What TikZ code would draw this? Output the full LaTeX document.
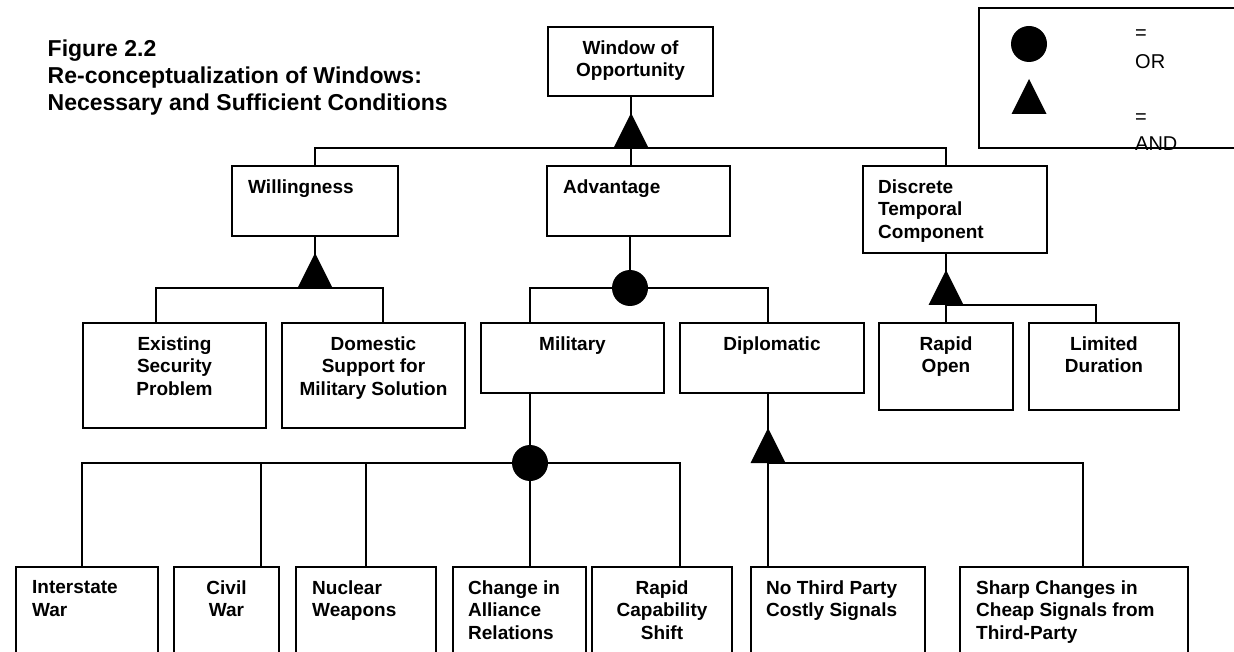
\documentclass[tikz,border=0pt]{standalone}
\usepackage{fontspec}
\setmainfont{Liberation Sans}
\usetikzlibrary{positioning}
\tikzset{
  box/.style={draw, line width=1.7pt, inner sep=0pt, outer sep=0pt, anchor=north west},
  conn/.style={line width=1.7pt},
  bt/.style={font=\fontsize{19}{22.7}\selectfont\bfseries, inner sep=0pt},
  btc/.style={bt, align=center},
  btl/.style={bt, align=left},
  ttl/.style={font=\fontsize{23}{27.3}\selectfont\bfseries, inner sep=0pt, align=left, anchor=north west},
  legtxt/.style={font=\fontsize{20}{24}\selectfont, inner sep=0pt, anchor=base west},
  orgate/.style={circle, fill=black, inner sep=0pt, minimum width=35pt, minimum height=36pt},
  andgate/.pic={\fill (-17.5,0) -- (0,-35) -- (17.5,0) -- cycle;},
}
\begin{document}
\begin{tikzpicture}[x=1pt,y=-1pt]
\useasboundingbox (0,0) rectangle (1234,652);
\fill[white] (0,0) rectangle (1234,652);
\clip (0,0) rectangle (1234,652);

% title
\node[ttl] (title) at (47.5,39.5) {Figure 2.2\\Re-conceptualization of Windows:\\Necessary and Sufficient Conditions};

% boxes
\node[box, minimum width=165pt, minimum height=69pt] (win) at (548,27) {};
\node[box, minimum width=166pt, minimum height=70pt] (will) at (232,166) {};
\node[box, minimum width=183pt, minimum height=70pt] (adv) at (547,166) {};
\node[box, minimum width=184pt, minimum height=87pt] (disc) at (863,166) {};
\node[box, minimum width=183pt, minimum height=105pt] (exist) at (83,323) {};
\node[box, minimum width=183pt, minimum height=105pt] (dom) at (282,323) {};
\node[box, minimum width=183pt, minimum height=70pt] (mil) at (481,323) {};
\node[box, minimum width=184pt, minimum height=70pt] (dip) at (680,323) {};
\node[box, minimum width=134pt, minimum height=87pt] (ropen) at (879,323) {};
\node[box, minimum width=150pt, minimum height=87pt] (lim) at (1029,323) {};
\node[box, minimum width=142pt, minimum height=140pt] (inter) at (16,567) {};
\node[box, minimum width=105pt, minimum height=140pt] (civil) at (174,567) {};
\node[box, minimum width=140pt, minimum height=140pt] (nuc) at (296,567) {};
\node[box, minimum width=133pt, minimum height=140pt] (chg) at (453,567) {};
\node[box, minimum width=140pt, minimum height=140pt] (rcap) at (592,567) {};
\node[box, minimum width=174pt, minimum height=140pt] (nthird) at (751,567) {};
\node[box, minimum width=228pt, minimum height=140pt] (sharp) at (960,567) {};
\node[box, minimum width=330pt, minimum height=140pt] (leg) at (979,8) {};

% box texts
\node[btc, below=13.2pt of win.north] (winT) {Window of\\Opportunity};
\node[btl, below right=13.2pt and 16pt of will.north west] (willT) {Willingness};
\node[btl, below right=13.2pt and 16pt of adv.north west] (advT) {Advantage};
\node[btl, below right=13.2pt and 15pt of disc.north west] (discT) {Discrete\\Temporal\\Component};
\node[btc, below=13.2pt of exist.north] (existT) {Existing\\Security\\Problem};
\node[btc, below=13.2pt of dom.north] (domT) {Domestic\\Support for\\Military Solution};
\node[btc, below=13.2pt of mil.north] (milT) {Military};
\node[btc, below=13.2pt of dip.north] (dipT) {Diplomatic};
\node[btc, below=13.2pt of ropen.north] (ropenT) {Rapid\\Open};
\node[btc, below=13.2pt of lim.north] (limT) {Limited\\Duration};
\node[btl, below right=13.2pt and 16pt of inter.north west] (interT) {Interstate\\War};
\node[btc, below=13.2pt of civil.north] (civilT) {Civil\\War};
\node[btl, below right=13.2pt and 16pt of nuc.north west] (nucT) {Nuclear\\Weapons};
\node[btl, below right=13.2pt and 15pt of chg.north west] (chgT) {Change in\\Alliance\\Relations};
\node[btc, below=13.2pt of rcap.north] (rcapT) {Rapid\\Capability\\Shift};
\node[btl, below right=13.2pt and 15pt of nthird.north west] (nthirdT) {No Third Party\\Costly Signals};
\node[btl, below right=13.2pt and 16pt of sharp.north west] (sharpT) {Sharp Changes in\\Cheap Signals from\\Third-Party};

% legend texts
\node[legtxt] (eq1) at (1135,40) {=};
\node[legtxt] (orL) at (1135,69) {OR};
\node[legtxt] (eq2) at (1135,124) {=};
\node[legtxt] (andL) at (1135,151) {AND};

% gate positions
\coordinate (g1) at (631,148);
\coordinate (g2) at (315,288);
\coordinate (g3) at (768,463);
\coordinate (g4) at (946,305);
\coordinate (o1) at (630,288);
\coordinate (o2) at (530,463);

% attachment points on the boxes
\coordinate (discA) at ([xshift=-9pt]disc.north);
\coordinate (existA) at ([xshift=-18.5pt]exist.north);
\coordinate (domA) at ([xshift=9.5pt]dom.north);
\coordinate (milA) at ([xshift=-42.5pt]mil.north);
\coordinate (dipA) at ([xshift=-4pt]dip.north);
\coordinate (interA) at ([xshift=-5pt]inter.north);
\coordinate (civilA) at ([xshift=34.5pt]civil.north);
\coordinate (nucA) at (nuc.north);
\coordinate (chgA) at ([xshift=10.5pt]chg.north);
\coordinate (rcapA) at ([xshift=18pt]rcap.north);
\coordinate (sharpA) at ([xshift=9pt]sharp.north);
\coordinate (limA) at ([xshift=-8pt]lim.north);

% connectors
\draw[conn] (g1 |- win.south) -- (g1);
\draw[conn] (will.north) |- (g1) -| (discA);
\draw[conn] (g1) -- (g1 |- adv.north);

\draw[conn] (g2 |- will.south) -- (g2);
\draw[conn] (existA) |- (g2) -| (domA);

\draw[conn] (o1 |- adv.south) -- (o1);
\draw[conn] (milA) |- (o1) -| (dipA);

\draw[conn] (o2 |- mil.south) -- (o2);
\draw[conn] (interA) |- (o2) -| (rcapA);
\draw[conn] (civilA) -- (civilA |- o2);
\draw[conn] (nucA) -- (nucA |- o2);
\draw[conn] (o2) -- (o2 |- chgA);

\draw[conn] (g3 |- dip.south) -- (g3) -- (g3 |- nthird.north);
\draw[conn] (g3) -| (sharpA);

\draw[conn] (g4 |- disc.south) -- (g4) -- (g4 |- ropen.north);
\draw[conn] (g4) -| (limA);

% gates
\pic at (g1) {andgate};
\pic at (g2) {andgate};
\pic at (g3) {andgate};
\pic at (g4) {andgate};
\node[orgate] (o1n) at (o1) {};
\node[orgate] (o2n) at (o2) {};

% legend symbols
\node[orgate] (legOr) at (1029,44) {};
\coordinate (legAnd) at (1029,114);
\pic at (legAnd) {andgate};
\end{tikzpicture}
\end{document}
